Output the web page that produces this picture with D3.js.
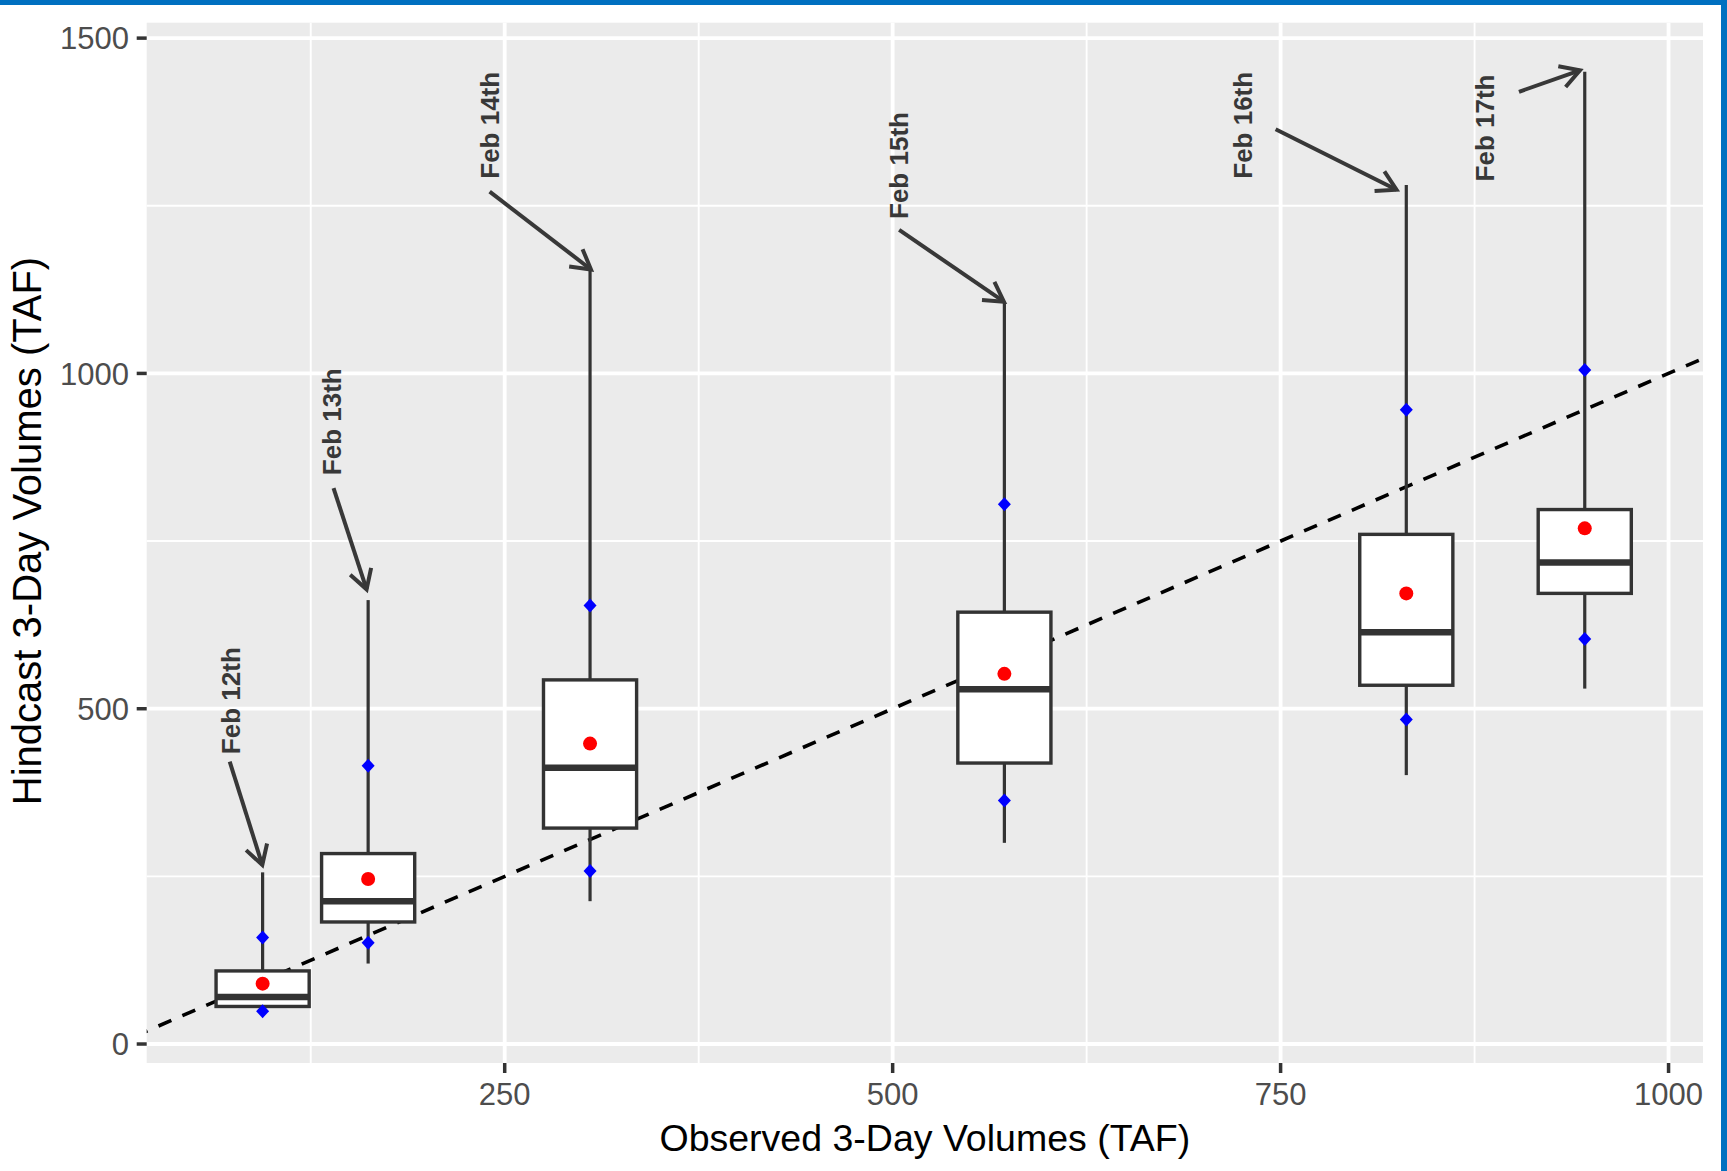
<!DOCTYPE html>
<html>
<head>
<meta charset="utf-8">
<script src="https://cdn.jsdelivr.net/npm/d3@7"></script>
<style>
  body { margin: 0; background: #ffffff; }
  text { font-family: "Liberation Sans", Arial, sans-serif; }
</style>
</head>
<body>
<div id="chart"></div>
<script>
// box summaries per day (TAF)
const days = ["Feb 12th", "Feb 13th", "Feb 14th", "Feb 15th", "Feb 16th", "Feb 17th"];
const observed = [94, 162, 305, 572, 831, 946];
const whiskerLow = [43, 120, 213, 300, 401, 530];
const q1 = [56, 182, 322, 419, 535, 672];
const median = [70, 213, 412, 529, 614, 718];
const q3 = [109, 284, 543, 644, 760, 797];
const whiskerHigh = [256, 662, 1156, 1107, 1281, 1450];
const meanValues = [90, 246, 448, 552, 672, 769];
const lowMarks = [49, 151, 258, 363, 484, 604];
const highMarks = [159, 415, 654, 805, 946, 1005];

// annotation anchors, in data units
const labelX = [73.7, 138.6, 240.4, 504.2, 725.6, 881.7];
const labelY = [512, 928, 1370, 1310, 1370, 1366];
const arrowFromX = [72.8, 139.7, 240.3, 504.2, 746.8, 903.6];
const arrowFromY = [421, 829, 1271, 1214, 1364, 1420];
const arrowToX = [93.8, 161.0, 305.6, 571.7, 824.7, 942.9];
const arrowToY = [267, 678, 1155, 1107, 1274, 1452];

const xTicks = [250, 500, 750, 1000];
const xMinor = [125, 375, 625, 875];
const yTicks = [0, 500, 1000, 1500];
const yMinor = [250, 750, 1250];

const boxWidth = 60;

const width = 1727;
const height = 1171;
const panel = {left: 146.7, right: 1703, top: 22.7, bottom: 1063};

const svg = d3.select("#chart").append("svg")
    .attr("width", width)
    .attr("height", height);

// frame strips
svg.append("rect").attr("x", 0).attr("y", 0).attr("width", width).attr("height", 5).attr("fill", "#0070c0");
svg.append("rect").attr("x", 1721).attr("y", 0).attr("width", width - 1721).attr("height", height).attr("fill", "#0070c0");

const x = d3.scaleLinear().domain([19.3, 1022.2]).range([panel.left, panel.right]);
const y = d3.scaleLinear().domain([-28.3, 1523]).range([panel.bottom, panel.top]);

svg.append("defs").append("clipPath").attr("id", "clip")
  .append("rect")
    .attr("x", panel.left).attr("y", panel.top)
    .attr("width", panel.right - panel.left).attr("height", panel.bottom - panel.top);

// panel background + grid
svg.append("rect")
    .attr("x", panel.left).attr("y", panel.top)
    .attr("width", panel.right - panel.left).attr("height", panel.bottom - panel.top)
    .attr("fill", "#ebebeb");

const grid = svg.append("g").attr("stroke", "#ffffff");
grid.selectAll(".xminor").data(xMinor).join("line")
    .attr("x1", d => x(d)).attr("x2", d => x(d))
    .attr("y1", panel.top).attr("y2", panel.bottom)
    .attr("stroke-width", 1.9);
grid.selectAll(".yminor").data(yMinor).join("line")
    .attr("x1", panel.left).attr("x2", panel.right)
    .attr("y1", d => y(d)).attr("y2", d => y(d))
    .attr("stroke-width", 1.9);
grid.selectAll(".xmajor").data(xTicks).join("line")
    .attr("x1", d => x(d)).attr("x2", d => x(d))
    .attr("y1", panel.top).attr("y2", panel.bottom)
    .attr("stroke-width", 3.8);
grid.selectAll(".ymajor").data(yTicks).join("line")
    .attr("x1", panel.left).attr("x2", panel.right)
    .attr("y1", d => y(d)).attr("y2", d => y(d))
    .attr("stroke-width", 3.8);

// 1:1 line
svg.append("line")
    .attr("clip-path", "url(#clip)")
    .attr("x1", x(-50)).attr("y1", y(-50))
    .attr("x2", x(1100)).attr("y2", y(1100))
    .attr("stroke", "#000000")
    .attr("stroke-width", 3.6)
    .attr("stroke-dasharray", "14,12");

const rows = days.map((d, i) => ({
    day: d, x: observed[i], lo: whiskerLow[i], q1: q1[i], med: median[i],
    q3: q3[i], hi: whiskerHigh[i], mean: meanValues[i], p10: lowMarks[i], p90: highMarks[i]
}));

const boxes = svg.append("g");

// whiskers
boxes.selectAll(".whisker-hi").data(rows).join("line")
    .attr("x1", d => x(d.x)).attr("x2", d => x(d.x))
    .attr("y1", d => y(d.q3)).attr("y2", d => y(d.hi))
    .attr("stroke", "#333333").attr("stroke-width", 3.2);
boxes.selectAll(".whisker-lo").data(rows).join("line")
    .attr("x1", d => x(d.x)).attr("x2", d => x(d.x))
    .attr("y1", d => y(d.q1)).attr("y2", d => y(d.lo))
    .attr("stroke", "#333333").attr("stroke-width", 3.2);

// boxes
boxes.selectAll(".box").data(rows).join("rect")
    .attr("x", d => x(d.x - boxWidth / 2))
    .attr("width", d => x(d.x + boxWidth / 2) - x(d.x - boxWidth / 2))
    .attr("y", d => y(d.q3))
    .attr("height", d => y(d.q1) - y(d.q3))
    .attr("fill", "#ffffff")
    .attr("stroke", "#333333")
    .attr("stroke-width", 3.4);

boxes.selectAll(".median").data(rows).join("line")
    .attr("x1", d => x(d.x - boxWidth / 2)).attr("x2", d => x(d.x + boxWidth / 2))
    .attr("y1", d => y(d.med)).attr("y2", d => y(d.med))
    .attr("stroke", "#333333").attr("stroke-width", 6.5);

// percentile diamonds
const diamond = "M0,-7L6.5,0L0,7L-6.5,0Z";
boxes.selectAll(".p90").data(rows).join("path")
    .attr("d", diamond)
    .attr("transform", d => `translate(${x(d.x)},${y(d.p90)})`)
    .attr("fill", "#0000ff");
boxes.selectAll(".p10").data(rows).join("path")
    .attr("d", diamond)
    .attr("transform", d => `translate(${x(d.x)},${y(d.p10)})`)
    .attr("fill", "#0000ff");

// means
boxes.selectAll(".mean").data(rows).join("circle")
    .attr("cx", d => x(d.x)).attr("cy", d => y(d.mean))
    .attr("r", 7)
    .attr("fill", "#ff0000");

// annotations
const notes = svg.append("g");
const arrowLen = 22;
days.forEach((d, i) => {
    const x1 = x(arrowFromX[i]), y1 = y(arrowFromY[i]);
    const x2 = x(arrowToX[i]), y2 = y(arrowToY[i]);
    const a = Math.atan2(y2 - y1, x2 - x1);
    const spread = Math.PI / 6;
    const h1 = [x2 - arrowLen * Math.cos(a - spread), y2 - arrowLen * Math.sin(a - spread)];
    const h2 = [x2 - arrowLen * Math.cos(a + spread), y2 - arrowLen * Math.sin(a + spread)];
    notes.append("line")
        .attr("x1", x1).attr("y1", y1).attr("x2", x2).attr("y2", y2)
        .attr("stroke", "#383838").attr("stroke-width", 4)
        .attr("stroke-linecap", "butt");
    notes.append("path")
        .attr("d", `M${h1[0]},${h1[1]}L${x2},${y2}L${h2[0]},${h2[1]}`)
        .attr("fill", "none")
        .attr("stroke", "#383838").attr("stroke-width", 4)
        .attr("stroke-linejoin", "miter");
    notes.append("text")
        .attr("transform", `translate(${x(labelX[i])},${y(labelY[i])}) rotate(-90)`)
        .attr("text-anchor", "middle")
        .attr("dominant-baseline", "central")
        .attr("font-size", 26)
        .attr("font-weight", "bold")
        .attr("fill", "#383838")
        .text(d);
});

// axes
const xAxis = svg.append("g");
xAxis.selectAll("line").data(xTicks).join("line")
    .attr("x1", d => x(d)).attr("x2", d => x(d))
    .attr("y1", panel.bottom).attr("y2", panel.bottom + 10)
    .attr("stroke", "#333333").attr("stroke-width", 3.5);
xAxis.selectAll("text").data(xTicks).join("text")
    .attr("x", d => x(d)).attr("y", 1105)
    .attr("text-anchor", "middle")
    .attr("font-size", 31)
    .attr("fill", "#4d4d4d")
    .text(d => d);

const yAxis = svg.append("g");
yAxis.selectAll("line").data(yTicks).join("line")
    .attr("x1", panel.left - 10).attr("x2", panel.left)
    .attr("y1", d => y(d)).attr("y2", d => y(d))
    .attr("stroke", "#333333").attr("stroke-width", 3.5);
yAxis.selectAll("text").data(yTicks).join("text")
    .attr("x", 129).attr("y", d => y(d))
    .attr("dy", "0.36em")
    .attr("text-anchor", "end")
    .attr("font-size", 31)
    .attr("fill", "#4d4d4d")
    .text(d => d);

svg.append("text")
    .attr("x", (panel.left + panel.right) / 2).attr("y", 1151)
    .attr("text-anchor", "middle")
    .attr("font-size", 37.5)
    .attr("fill", "#000000")
    .text("Observed 3-Day Volumes (TAF)");

svg.append("text")
    .attr("transform", "translate(41,531) rotate(-90)")
    .attr("text-anchor", "middle")
    .attr("font-size", 40)
    .attr("fill", "#000000")
    .text("Hindcast 3-Day Volumes (TAF)");
</script>
</body>
</html>
